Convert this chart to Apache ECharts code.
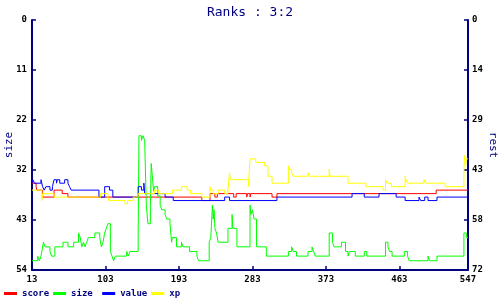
<!DOCTYPE html>
<html>
<head>
<meta charset="utf-8">
<script src="https://cdn.jsdelivr.net/npm/echarts@6/dist/echarts.min.js"></script>
<style>html,body{margin:0;padding:0;background:#fff;}#c{width:500px;height:300px;}</style>
</head>
<body>
<div id="c"></div>
<script>
var titleText = 'Ranks : 3:2';
var seriesNames = ['score', 'size', 'value', 'xp'];
var xTicks = [13, 103, 193, 283, 373, 463, 547];
var leftTicks = [0, 10.8, 21.6, 32.4, 43.2, 54];
var rightTicks = [0, 14.4, 28.8, 43.2, 57.6, 72];

// [x, value] step breakpoints (value holds until next x)
var scoreData = [[13,47],[18,48],[19,49],[26,51],[40,49],[50,50],[57,51],[221,52],[231,50],[237,51],[240,50],[260,51],[263,50],[276,51],[277,50],[280,51],[281,50],[307,51],[313,50],[508,49],[547,49]];

var sizeData = [[13,52],[20,51],[22,52],[24,51],[25,50],[27,48],[29,49],[35,50],[37,51],[41,49],[51,48],[57,49],[64,48],[70,46],[72,47],[74,49],[76,48],[78,49],[80,48],[82,47],[90,46],[96,47],[98,49],[100,48],[102,46],[104,45],[106,44],[109,50],[111,51],[113,52],[115,51],[129,50],[131,51],[133,50],[143,47],[144,25],[147,26],[149,25],[151,26],[153,40],[154,42],[155,44],[158,40],[159,31],[160,33],[162,37],[163,36],[167,38],[170,40],[172,41],[176,42],[178,43],[182,44],[184,48],[185,47],[190,49],[196,48],[198,49],[206,50],[215,51],[217,52],[230,48],[232,47],[234,40],[235,43],[236,41],[237,45],[239,46],[241,48],[253,45],[258,42],[259,45],[264,49],[280,40],[281,42],[283,41],[285,43],[288,49],[300,51],[327,50],[331,49],[333,50],[337,51],[351,50],[356,49],[358,50],[360,51],[377,46],[381,48],[383,49],[392,48],[397,50],[400,51],[402,50],[409,51],[420,50],[423,51],[446,48],[449,49],[451,50],[454,51],[469,50],[473,51],[475,52],[498,51],[500,52],[509,51],[542,46],[545,47],[547,47]];

var valueData = [[13,47],[14,46],[16,47],[24,46],[26,48],[28,49],[30,48],[35,49],[38,48],[40,46],[43,47],[44,46],[47,47],[53,46],[57,47],[59,48],[61,49],[95,51],[102,48],[108,49],[112,51],[143,48],[147,49],[150,47],[151,50],[176,51],[186,52],[249,51],[255,52],[313,51],[405,50],[420,51],[438,50],[459,51],[470,52],[487,51],[489,52],[494,51],[498,52],[509,51],[547,51]];

var xpData = [[13,49],[25,52],[26,50],[40,51],[97,50],[106,51],[107,52],[127,53],[130,52],[137,51],[143,50],[163,49],[168,50],[185,49],[196,48],[203,49],[207,50],[221,51],[231,48],[232,49],[235,50],[241,49],[249,50],[253,49],[255,44],[256,46],[278,48],[280,40],[287,41],[298,42],[302,45],[307,47],[327,42],[328,43],[331,44],[333,45],[351,44],[353,45],[377,43],[378,45],[400,47],[422,48],[443,49],[446,46],[448,47],[453,48],[470,45],[471,46],[473,47],[493,46],[495,47],[519,48],[542,43],[543,39],[544,42],[545,40],[547,40]];

var colors = ['#ff0000', '#00ff00', '#0000ff', '#ffff00'];
var navy = '#000080';
var mono = 'DejaVu Sans Mono';

var chart = echarts.init(document.getElementById('c'), null, {renderer: 'canvas'});
function mk(name, data, axis, color) {
  return {name: name, type: 'line', data: data, yAxisIndex: axis, step: 'end',
    showSymbol: false, symbol: 'none', color: color,
    lineStyle: {width: 1, color: color}};
}
chart.setOption({
  animation: false,
  backgroundColor: '#ffffff',
  title: {text: titleText, left: 'center', top: 1,
    textStyle: {color: navy, fontFamily: mono, fontSize: 13, fontWeight: 'normal'}},
  legend: {data: seriesNames, left: 4, top: 289, padding: 0, icon: 'rect', itemWidth: 13, itemHeight: 3,
    itemGap: 4,
    formatter: function (n) { return (n + '     ').slice(0, 5); },
    textStyle: {color: navy, fontFamily: mono, fontSize: 9, fontWeight: 'bold'}},
  grid: {left: 32, right: 32, top: 20, bottom: 30, containLabel: false, outerBoundsMode: 'none'},
  xAxis: {type: 'value', min: 13, max: 547,
    axisLine: {onZero: false, lineStyle: {color: navy, width: 2}},
    axisTick: {inside: true, length: 4, lineStyle: {color: navy, width: 1.5}, customValues: xTicks},
    axisLabel: {customValues: xTicks, color: '#000', fontFamily: mono, fontSize: 9, fontWeight: 'bold', margin: 5},
    splitLine: {show: false}},
  yAxis: [
    {type: 'value', name: 'size', nameLocation: 'middle', nameGap: 17, nameRotate: 90, nameMoveOverlap: false,
      nameTextStyle: {color: navy, fontFamily: mono, fontSize: 11},
      min: 0, max: 54, inverse: true, position: 'left',
      axisLine: {show: true, onZero: false, lineStyle: {color: navy, width: 2}},
      axisTick: {show: true, inside: true, length: 4, lineStyle: {color: navy, width: 1.5}, customValues: leftTicks},
      axisLabel: {customValues: leftTicks, formatter: function (v) { return String(Math.round(v)); },
        color: '#000', fontFamily: mono, fontSize: 9, fontWeight: 'bold', margin: 5},
      splitLine: {show: false}},
    {type: 'value', name: 'rest', nameLocation: 'middle', nameGap: 19, nameRotate: -90, nameMoveOverlap: false,
      nameTextStyle: {color: navy, fontFamily: mono, fontSize: 11},
      min: 0, max: 72, inverse: true, position: 'right',
      axisLine: {show: true, onZero: false, lineStyle: {color: navy, width: 2}},
      axisTick: {show: true, inside: true, length: 4, lineStyle: {color: navy, width: 1.5}, customValues: rightTicks},
      axisLabel: {customValues: rightTicks, formatter: function (v) { return String(Math.round(v)); },
        color: '#000', fontFamily: mono, fontSize: 9, fontWeight: 'bold', margin: 4},
      splitLine: {show: false}}
  ],
  series: [
    mk(seriesNames[0], scoreData, 1, colors[0]),
    mk(seriesNames[1], sizeData, 0, colors[1]),
    mk(seriesNames[2], valueData, 1, colors[2]),
    mk(seriesNames[3], xpData, 1, colors[3])
  ]
});
</script>
</body>
</html>
